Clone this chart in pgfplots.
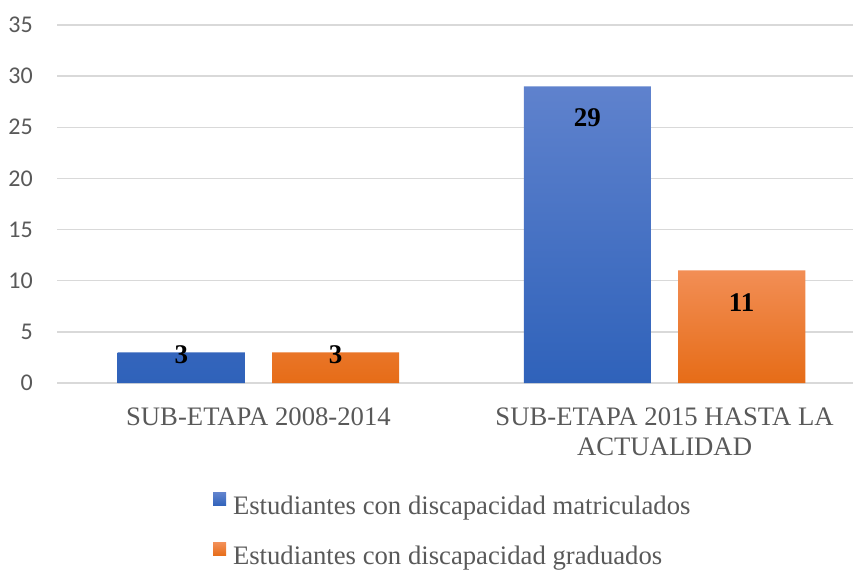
\documentclass[border=0pt]{standalone}
\usepackage{pgfplots}
\pgfplotsset{compat=1.18}
\usepackage{pgfplotstable}
\usepackage{fontspec}
\setmainfont{Liberation Serif}
\newfontfamily\tickfont{Carlito}
\definecolor{txt}{HTML}{595959}
\definecolor{gridc}{HTML}{D9D9D9}
\definecolor{btop}{HTML}{5F82CD}
\definecolor{bmid}{HTML}{4070C6}
\definecolor{bbot}{HTML}{2F62BA}
\definecolor{otop}{HTML}{F28E55}
\definecolor{omid}{HTML}{F3802F}
\definecolor{obot}{HTML}{E66C17}

\pgfplotstableread{
x y sh
0 3 -2
1 29 -31
}\matric
\pgfplotstableread{
x y sh
0 3 -2
1 11 -32
}\grad

\begin{document}
\begin{tikzpicture}
\useasboundingbox (-57pt,-187pt) rectangle (796pt,383pt);
\begin{axis}[
  at={(0pt,0pt)}, anchor=south west,
  scale only axis, width=796pt, height=358pt,
  xmin=-0.496, xmax=1.464, ymin=0, ymax=35,
  ybar, bar width=0.313,
  xtick={0,1},
  xticklabels={SUB-ETAPA 2008-2014, {SUB-ETAPA 2015 HASTA LA\\ACTUALIDAD}},
  xticklabel style={font=\fontsize{26.7}{29.5}\selectfont, text=txt, align=center, anchor=north, inner sep=0pt, yshift=-25pt},
  ytick={0,5,...,35},
  yticklabel style={font=\tickfont\fontsize{24}{28}\selectfont, text=txt, inner sep=0pt, xshift=-24pt},
  /pgf/number format/assume math mode=true,
  ymajorgrids, grid style={draw=gridc, line width=1.3pt},
  axis line style={draw=none},
  major tick length=0pt,
  tick style={draw=none},
  nodes near coords={\pgfmathprintnumber[assume math mode=true]{\pgfplotspointmeta}},
  every node near coord/.append style={font=\fontsize{27}{30}\selectfont\bfseries, text=black, anchor=center, yshift=\sh pt},
  visualization depends on={\thisrow{sh} \as \sh},
  legend style={at={(0.196,-0.3072)}, anchor=north west, draw=none, fill=none,
    inner sep=0pt, outer sep=0pt, row sep=20pt, column sep=5pt,
    font=\fontsize{26.7}{30}\selectfont, text=txt,
    nodes={inner sep=2pt, text height=18pt, text depth=6pt}},
  legend cell align=left,
  legend image code/.code={\path[#1] (0pt,3pt) rectangle (13pt,16pt);},
]
\addplot[draw=none, top color=btop, middle color=bmid, bottom color=bbot, bar shift=-0.19] table[x=x, y=y] {\matric};
\addlegendentry{Estudiantes con discapacidad matriculados}
\addplot[draw=none, top color=otop, middle color=omid, bottom color=obot, bar shift=0.19] table[x=x, y=y] {\grad};
\addlegendentry{Estudiantes con discapacidad graduados}
\end{axis}
\end{tikzpicture}
\end{document}
